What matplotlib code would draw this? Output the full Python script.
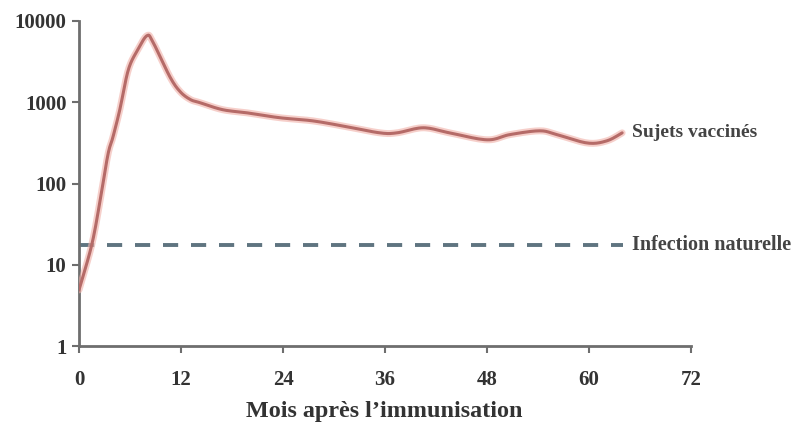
import matplotlib
matplotlib.use("Agg")
import matplotlib.pyplot as plt
import numpy as np

months = [0, 1.5, 2.5, 3.4, 4.0, 4.8, 5.8, 6.9, 8.0, 8.7, 10.7, 11.9, 13.1, 14.2,
          16.9, 19.8, 23.6, 27.5, 31.5, 35.4, 37.4, 40.5, 43.6, 48.0, 50.7, 54.2,
          56.2, 59.8, 62.1, 63.9]
titers = [4.9, 17.6, 63, 226, 375, 810, 2500, 4400, 6600, 5500, 2050, 1350, 1080, 990,
          810, 740, 645, 590, 500, 420, 420, 485, 420, 345, 400, 445,
          400, 315, 335, 420]
natural_x = [0, 64]
natural_y = [17.6, 17.6]
xticks = [0, 12, 24, 36, 48, 60, 72]
yticks = [1, 10, 100, 1000, 10000]
ytick_labels = ["1", "10", "100", "1000", "10000"]

plt.rcParams['font.family'] = ['Liberation Serif', 'DejaVu Serif']

fig = plt.figure(figsize=(7.92, 4.30), dpi=100)
ax = fig.add_axes([79/792, 1-346/430, (691-79)/792, (346-21)/430])

xs = np.array(months, dtype=float)
ly = np.log10(titers)

def catmull(x, y, n=12):
    px, py = [], []
    X = np.concatenate([[x[0]], x, [x[-1]]])
    Y = np.concatenate([[y[0]], y, [y[-1]]])
    for i in range(1, len(X)-2):
        t = np.linspace(0, 1, n, endpoint=False)
        for arr, out in ((X, px), (Y, py)):
            p0, p1, p2, p3 = arr[i-1], arr[i], arr[i+1], arr[i+2]
            out.extend(0.5*((2*p1) + (-p0+p2)*t + (2*p0-5*p1+4*p2-p3)*t**2 + (-p0+3*p1-3*p2+p3)*t**3))
    px.append(x[-1]); py.append(y[-1])
    return np.array(px), np.array(py)

sx, sy = catmull(xs, ly)
ax.plot(sx, 10**sy, color='#f0b0a8', lw=5, alpha=0.6, solid_capstyle='round', zorder=3)
ax.plot(sx, 10**sy, color='#b56b68', lw=2.2, solid_capstyle='round', zorder=4)

ax.plot(natural_x, natural_y, color='#5f7480', lw=2.8, dashes=(3.9, 3.3), zorder=2)

ax.set_yscale('log')
ax.set_xlim(0, 72)
ax.set_ylim(1, 10000)
ax.set_xticks(xticks)
ax.set_xticklabels([str(t) for t in xticks])
ax.set_yticks(yticks)
ax.set_yticklabels(ytick_labels)
ax.minorticks_off()

for s in ['top', 'right']:
    ax.spines[s].set_visible(False)
for s in ['left', 'bottom']:
    ax.spines[s].set_color('#6e6e6e')
    ax.spines[s].set_linewidth(2)

ax.tick_params(axis='both', colors='#6e6e6e', width=1.5, length=5, direction='out')
ax.tick_params(axis='x', labelsize=15, labelcolor='#333333', pad=12)
ax.tick_params(axis='y', labelsize=15, labelcolor='#333333', pad=4)
for lab in ax.get_xticklabels() + ax.get_yticklabels():
    lab.set_fontweight('bold')

ax.text(65.0, 420, "Sujets vaccinés", fontsize=14, fontweight='bold', color='#444444',
        va='center', ha='left', clip_on=False)
ax.text(65.0, 17.6, "Infection naturelle", fontsize=14.5, fontweight='bold', color='#444444',
        va='center', ha='left', clip_on=False)

fig.text(384/792, 1-411/430, "Mois après l’immunisation", fontsize=17.4, fontweight='bold',
         color='#333333', ha='center', va='center')

fig.savefig("out.png", dpi=100)
